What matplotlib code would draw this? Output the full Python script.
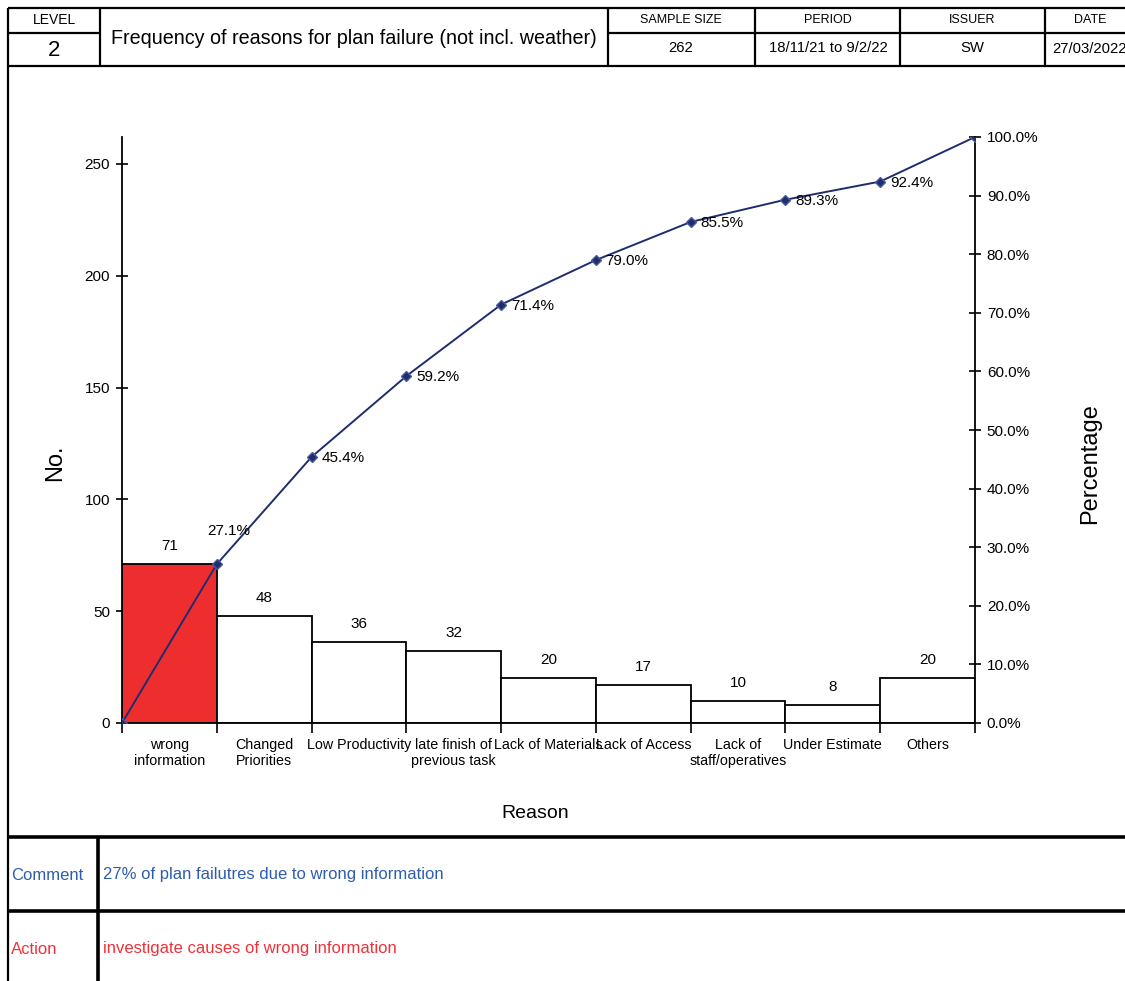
import matplotlib
matplotlib.use("Agg")
import matplotlib.pyplot as plt
import numpy as np

plt.rcParams['font.family'] = ['Liberation Sans', 'DejaVu Sans']

# data
reasons = ['wrong\ninformation', 'Changed\nPriorities', 'Low Productivity',
           'late finish of\nprevious task', 'Lack of Materials', 'Lack of Access',
           'Lack of\nstaff/operatives', 'Under Estimate', 'Others']
counts = [71, 48, 36, 32, 20, 17, 10, 8, 20]
total = sum(counts)
cum_pct = np.round(np.cumsum(counts) / total * 100, 1)

header_top = ['LEVEL', 'SAMPLE SIZE', 'PERIOD', 'ISSUER', 'DATE']
header_val = ['2', '262', '18/11/21 to 9/2/22', 'SW', '27/03/2022']
title = 'Frequency of reasons for plan failure (not incl. weather)'
comment = '27% of plan failutres due to wrong information'
action = 'investigate causes of wrong information'

W, H = 1125, 981
fig = plt.figure(figsize=(W / 100, H / 100), dpi=100)

line_col = '#1F2D6E'
bar_red = '#EE2E2E'
fs = 11

# main chart area in pixels
x0, x1, yb, yt = 122, 975, 723, 137
ax = fig.add_axes([x0 / W, 1 - yb / H, (x1 - x0) / W, (yb - yt) / H])
xs = np.arange(len(counts))
colors = [bar_red] + ['white'] * (len(counts) - 1)
ax.bar(xs, counts, width=1.0, align='edge', color=colors, edgecolor='black', linewidth=1.3, zorder=2)
for i, c in enumerate(counts):
    ax.annotate(str(c), (i + 0.5, c), xytext=(0, 8), textcoords='offset points',
                ha='center', va='bottom', fontsize=fs)
ax.set_xlim(0, len(counts))
ax.set_ylim(0, total)
ax.set_yticks(np.arange(0, 251, 50))
ax.set_xticks(np.arange(0, len(counts) + 1))
ax.set_xticklabels([])
ax.set_xticks(xs + 0.5, minor=True)
ax.set_xticklabels(reasons, minor=True, fontsize=10.3, linespacing=1.15)
ax.tick_params(axis='x', which='major', direction='out', length=7, width=1.2)
ax.tick_params(axis='x', which='minor', length=0, pad=11)
ax.tick_params(axis='y', direction='inout', length=9, width=1.2, labelsize=fs, pad=4)
for s in ['top', 'right']:
    ax.spines[s].set_visible(False)
for s in ['left', 'bottom']:
    ax.spines[s].set_linewidth(1.3)

ax2 = ax.twinx()
ax2.set_ylim(0, 100)
cx = np.arange(len(counts) + 1)
cy = np.concatenate([[0], cum_pct])
ax2.plot(cx, cy, color=line_col, lw=1.4, marker='D', markersize=5,
         markerfacecolor=line_col, markeredgecolor='#4A5A9A', zorder=3)
for i in range(1, len(counts)):
    if i == 1:
        ax2.annotate(f'{cum_pct[i - 1]:.1f}%', (cx[i], cy[i]), xytext=(-7, 24),
                     textcoords='offset points', ha='left', va='center', fontsize=fs)
    else:
        ax2.annotate(f'{cum_pct[i - 1]:.1f}%', (cx[i], cy[i]), xytext=(7, -1),
                     textcoords='offset points', ha='left', va='center', fontsize=fs)
ax2.set_yticks(np.arange(0, 101, 10))
ax2.set_yticklabels([f'{v:.1f}%' for v in np.arange(0, 101, 10)])
ax2.tick_params(axis='y', direction='inout', length=9, width=1.2, labelsize=fs, pad=4)
for s in ['top', 'left', 'bottom']:
    ax2.spines[s].set_visible(False)
ax2.spines['right'].set_linewidth(1.3)
for a in (ax, ax2):
    a.patch.set_visible(False)

# frame, header and footer drawn in pixel coordinates
ov = fig.add_axes([0, 0, 1, 1], zorder=-1)
ov.set_xlim(0, W)
ov.set_ylim(H, 0)
ov.axis('off')

def hline(y, xa, xb, lw=1.6):
    ov.plot([xa, xb], [y, y], color='black', lw=lw, solid_capstyle='butt')

def vline(x, ya, yb_, lw=1.6):
    ov.plot([x, x], [ya, yb_], color='black', lw=lw, solid_capstyle='butt')

hline(8, 8, W)
hline(33, 8, 100)
hline(33, 608, W)
hline(66, 8, W)
vline(8, 8, H)
for xv in [100, 608, 755, 900, 1045]:
    vline(xv, 8, 66)
hline(837, 8, W, lw=2.6)
hline(911, 8, W, lw=2.6)
vline(98, 837, H, lw=2.6)

centers = [54, 681, 828, 972, 1090]
ov.text(centers[0], 20, header_top[0], ha='center', va='center', fontsize=10)
for t, xc in zip(header_top[1:], centers[1:]):
    ov.text(xc, 20, t, ha='center', va='center', fontsize=9)
ov.text(54, 51, header_val[0], ha='center', va='center', fontsize=16)
for t, xc in zip(header_val[1:4], centers[1:4]):
    ov.text(xc, 48, t, ha='center', va='center', fontsize=10.7)
ov.text(1052, 49, header_val[4], ha='left', va='center', fontsize=10.7)
ov.text(354, 38, title, ha='center', va='center', fontsize=14.2)

# axis titles
ov.text(55, 463, 'No.', ha='center', va='center', fontsize=17, rotation=90)
ov.text(1090, 464, 'Percentage', ha='center', va='center', fontsize=17, rotation=90)
ov.text(535, 814, 'Reason', ha='center', va='center', fontsize=14)

blue = '#2F5DAE'
red = '#EE3239'
ov.text(11, 875, 'Comment', ha='left', va='center', fontsize=12, color=blue)
ov.text(103, 875, comment, ha='left', va='center', fontsize=12, color=blue)
ov.text(11, 949, 'Action', ha='left', va='center', fontsize=12, color=red)
ov.text(103, 949, action, ha='left', va='center', fontsize=12, color=red)

fig.savefig('out.png', dpi=100)
